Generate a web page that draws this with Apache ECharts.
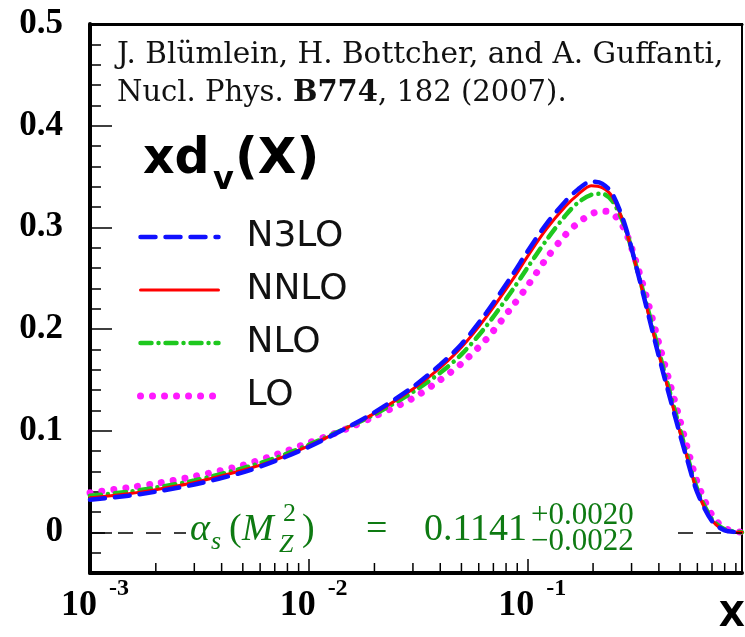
<!DOCTYPE html>
<html>
<head>
<meta charset="utf-8">
<script src="https://cdn.jsdelivr.net/npm/echarts@6/dist/echarts.min.js"></script>
<style>
  html, body { margin: 0; padding: 0; background: #fff; }
  #chart { width: 745px; height: 637px; }
</style>
</head>
<body>
<div id="chart"></div>
<script>
// Valence down-quark distribution x*d_v(x) at several perturbative orders
const xs = [0.001, 0.0015, 0.002, 0.003, 0.005, 0.007, 0.01, 0.015, 0.02, 0.03, 0.04, 0.05,
  0.065, 0.086, 0.1, 0.122, 0.15, 0.17, 0.196, 0.22, 0.245, 0.28, 0.325, 0.36, 0.4, 0.45,
  0.5, 0.54, 0.6, 0.7, 0.8, 0.96];

const n3lo = [0.032, 0.036, 0.040, 0.047, 0.059, 0.070, 0.084, 0.103, 0.118, 0.143, 0.165, 0.185,
  0.216, 0.254, 0.276, 0.303, 0.326, 0.337, 0.345, 0.343, 0.333, 0.302, 0.250, 0.212, 0.173, 0.132,
  0.096, 0.071, 0.039, 0.011, 0.002, 0.0];

const nnlo = [0.034, 0.038, 0.042, 0.049, 0.061, 0.071, 0.085, 0.103, 0.117, 0.141, 0.162, 0.182,
  0.212, 0.249, 0.271, 0.298, 0.321, 0.332, 0.341, 0.339, 0.330, 0.300, 0.250, 0.213, 0.175, 0.134,
  0.098, 0.073, 0.040, 0.012, 0.002, 0.0];

const nlo = [0.036, 0.040, 0.044, 0.051, 0.063, 0.073, 0.086, 0.103, 0.116, 0.138, 0.157, 0.175,
  0.203, 0.239, 0.260, 0.287, 0.312, 0.324, 0.332, 0.333, 0.326, 0.300, 0.251, 0.216, 0.178, 0.137,
  0.101, 0.075, 0.042, 0.013, 0.003, 0.0];

const lo = [0.039, 0.044, 0.048, 0.055, 0.066, 0.076, 0.088, 0.102, 0.114, 0.132, 0.150, 0.166,
  0.190, 0.223, 0.242, 0.269, 0.293, 0.304, 0.313, 0.316, 0.314, 0.297, 0.256, 0.223, 0.186, 0.146,
  0.110, 0.083, 0.049, 0.017, 0.004, 0.0];

const seriesNames = ['N3LO', 'NNLO', 'NLO', 'LO'];

// Axis ranges and ticks
const xMin = 0.001, xMax = 0.96;
const yMin = -0.04, yMax = 0.5;
const yMajorTicks = [0, 0.1, 0.2, 0.3, 0.4, 0.5];
const yMinorTicks = [-0.04, -0.02, 0.02, 0.04, 0.06, 0.08, 0.12, 0.14, 0.16, 0.18,
  0.22, 0.24, 0.26, 0.28, 0.32, 0.34, 0.36, 0.38, 0.42, 0.44, 0.46, 0.48];
const xMinorTicks = [0.002, 0.003, 0.004, 0.005, 0.006, 0.007, 0.008, 0.009,
  0.02, 0.03, 0.04, 0.05, 0.06, 0.07, 0.08, 0.09,
  0.2, 0.3, 0.4, 0.5, 0.6, 0.7, 0.8, 0.9];

const pairs = arr => xs.map((x, i) => [x, arr[i]]);

const SERIF = '"Liberation Serif", "DejaVu Serif", serif';
const SERIF_WIDE = '"DejaVu Serif", serif';
const SANS = '"DejaVu Sans", "Liberation Sans", sans-serif';
const GREEN = '#0e7a12';

const chart = echarts.init(document.getElementById('chart'), null, { renderer: 'canvas' });

function lineSeries(name, arr, color, width, dash, z, extra) {
  return Object.assign({
    name: name,
    type: 'line',
    data: pairs(arr),
    smooth: 0.3,
    showSymbol: false,
    symbol: 'none',
    z: z,
    lineStyle: { color: color, width: width, type: dash, cap: 'round' },
    itemStyle: { color: color }
  }, extra || {});
}

const option = {
  animation: false,
  backgroundColor: '#fff',
  grid: {
    left: 90, right: 3, top: 24, bottom: 64,
    show: true, borderColor: '#000', borderWidth: 2, backgroundColor: 'transparent'
  },
  xAxis: [
    {
      type: 'log', logBase: 10, min: xMin, max: xMax,
      axisLine: { onZero: false, lineStyle: { color: '#000', width: 4 } },
      axisTick: { inside: true, length: 16, lineStyle: { color: '#000', width: 1.5 } },
      splitLine: { show: false },
      axisLabel: {
        margin: 15,
        showMaxLabel: false,
        formatter: function (v) {
          const e = Math.round(Math.log10(v));
          if (Math.abs(Math.log10(v) - e) > 1e-6) return '';
          return '{b|10}{e|' + e + '}';
        },
        rich: {
          b: { fontFamily: SERIF, fontWeight: 'bold', fontSize: 36, color: '#000', lineHeight: 36, padding: [0, 0, 0, 10] },
          e: { fontFamily: SERIF, fontWeight: 'bold', fontSize: 24, color: '#000', lineHeight: 24, padding: [0, 0, 34, 12] }
        }
      }
    },
    {
      type: 'log', logBase: 10, min: xMin, max: xMax, position: 'top',
      axisLine: { onZero: false, lineStyle: { color: '#000', width: 3 } },
      axisTick: { show: false }, axisLabel: { show: false }, splitLine: { show: false }
    }
  ],
  yAxis: [
    {
      type: 'value', min: yMin, max: yMax, position: 'left',
      axisLine: { show: true, onZero: false, lineStyle: { color: '#000', width: 4 } },
      axisTick: { inside: true, length: 22, customValues: yMajorTicks, lineStyle: { color: '#000', width: 1.5 } },
      splitLine: { show: false },
      axisLabel: {
        customValues: yMajorTicks,
        margin: 27,
        fontFamily: SERIF, fontWeight: 'bold', fontSize: 35, color: '#000',
        formatter: v => (Math.abs(v) < 1e-9 ? '0' : v.toFixed(1))
      }
    },
    {
      type: 'value', min: yMin, max: yMax, position: 'left',
      axisLine: { show: false, onZero: false },
      axisTick: { inside: true, length: 11, customValues: yMinorTicks, lineStyle: { color: '#000', width: 1.5 } },
      axisLabel: { show: false },
      splitLine: { show: false }
    }
  ],
  legend: {
    data: seriesNames,
    orient: 'vertical',
    left: 137, top: 219,
    padding: 0,
    itemWidth: 78, itemHeight: 14, itemGap: 17,
    itemStyle: { opacity: 0 },
    lineStyle: { width: 'inherit' },
    textStyle: { fontFamily: SANS, fontSize: 36, color: '#111', lineHeight: 34, padding: [0, 0, 0, 23] },
    selectedMode: false
  },
  series: [
    lineSeries('LO', lo, '#ff1aff', 7, [0.01, 12], 2),
    lineSeries('NLO', nlo, '#1ec81e', 4.5, [11, 7, 0.01, 7], 3),
    lineSeries('NNLO', nnlo, '#ff0000', 3, 'solid', 4, {
      markLine: {
        silent: true,
        symbol: 'none',
        label: { show: false },
        lineStyle: { color: '#000', width: 1.5, type: [15, 13], cap: 'butt' },
        data: [{ yAxis: 0 }]
      }
    }),
    lineSeries('N3LO', n3lo, '#1010ff', 4.5, [15, 10], 5),
    {
      // minor ticks on the logarithmic x axis
      name: 'xminor',
      type: 'custom',
      silent: true,
      clip: false,
      z: 6,
      data: xMinorTicks.map(v => [v, yMin]),
      renderItem: function (params, api) {
        const p = api.coord([api.value(0), api.value(1)]);
        return {
          type: 'line',
          shape: { x1: p[0], y1: p[1], x2: p[0], y2: p[1] - 10 },
          style: { stroke: '#000', lineWidth: 1.5 }
        };
      }
    }
  ],
  graphic: [
    // publication reference in the upper left
    { type: 'text', x: 117, y: 55, z: 50, style: { text: 'J. Blümlein, H. Bottcher, and A. Guffanti,', fontFamily: SERIF_WIDE, fontSize: 29.5, fill: '#111', verticalAlign: 'middle' } },
    { type: 'text', x: 117, y: 93, z: 50, style: {
        text: 'Nucl. Phys. {b|B774}, 182 (2007).', fontFamily: SERIF_WIDE, fontSize: 29, fill: '#111', verticalAlign: 'middle',
        rich: { b: { fontFamily: SERIF_WIDE, fontSize: 29, fontWeight: 'bold', fill: '#111' } } } },
    // panel title xd_v(X)
    { type: 'text', x: 143, y: 160, z: 50, style: { text: 'xd', fontFamily: SANS, fontWeight: 'bold', fontSize: 49, fill: '#000', verticalAlign: 'middle' } },
    { type: 'text', x: 213, y: 181, z: 50, style: { text: 'v', fontFamily: SANS, fontWeight: 'bold', fontSize: 32, fill: '#000', verticalAlign: 'middle' } },
    { type: 'text', x: 235, y: 160, z: 50, style: { text: '(X)', fontFamily: SANS, fontWeight: 'bold', fontSize: 50, fill: '#000', verticalAlign: 'middle' } },
    // x axis name
    { type: 'text', x: 745, y: 617, z: 50, style: { text: 'X', fontFamily: SANS, fontWeight: 'bold', fontSize: 34, fill: '#000', align: 'right', verticalAlign: 'middle' } },
    // strong coupling annotation on a white patch over the zero line
    { type: 'rect', z: 40, shape: { x: 186, y: 503, width: 482, height: 56 }, style: { fill: '#fff' } },
    { type: 'text', x: 190, y: 530, z: 50, style: { text: 'α', fontFamily: SERIF, fontStyle: 'italic', fontSize: 38, fill: GREEN, verticalAlign: 'middle' } },
    { type: 'text', x: 211, y: 542, z: 50, style: { text: 's', fontFamily: SERIF, fontStyle: 'italic', fontSize: 26, fill: GREEN, verticalAlign: 'middle' } },
    { type: 'text', x: 229, y: 530, z: 50, style: { text: '(', fontFamily: SERIF, fontSize: 38, fill: GREEN, verticalAlign: 'middle' } },
    { type: 'text', x: 242, y: 530, z: 50, style: { text: 'M', fontFamily: SERIF, fontStyle: 'italic', fontSize: 38, fill: GREEN, verticalAlign: 'middle' } },
    { type: 'text', x: 283, y: 514, z: 50, style: { text: '2', fontFamily: SERIF, fontSize: 26, fill: GREEN, verticalAlign: 'middle' } },
    { type: 'text', x: 279, y: 545, z: 50, style: { text: 'Z', fontFamily: SERIF, fontStyle: 'italic', fontSize: 26, fill: GREEN, verticalAlign: 'middle' } },
    { type: 'text', x: 302, y: 530, z: 50, style: { text: ')', fontFamily: SERIF, fontSize: 38, fill: GREEN, verticalAlign: 'middle' } },
    { type: 'text', x: 366, y: 530, z: 50, style: { text: '=', fontFamily: SERIF, fontSize: 38, fill: GREEN, verticalAlign: 'middle' } },
    { type: 'text', x: 424, y: 530, z: 50, style: { text: '0.1141', fontFamily: SERIF, fontSize: 38, fill: GREEN, verticalAlign: 'middle' } },
    { type: 'text', x: 531, y: 516, z: 50, style: { text: '+0.0020', fontFamily: SERIF, fontSize: 31, fill: GREEN, verticalAlign: 'middle' } },
    { type: 'text', x: 531, y: 542, z: 50, style: { text: '−0.0022', fontFamily: SERIF, fontSize: 31, fill: GREEN, verticalAlign: 'middle' } }
  ]
};

chart.setOption(option);
</script>
</body>
</html>
